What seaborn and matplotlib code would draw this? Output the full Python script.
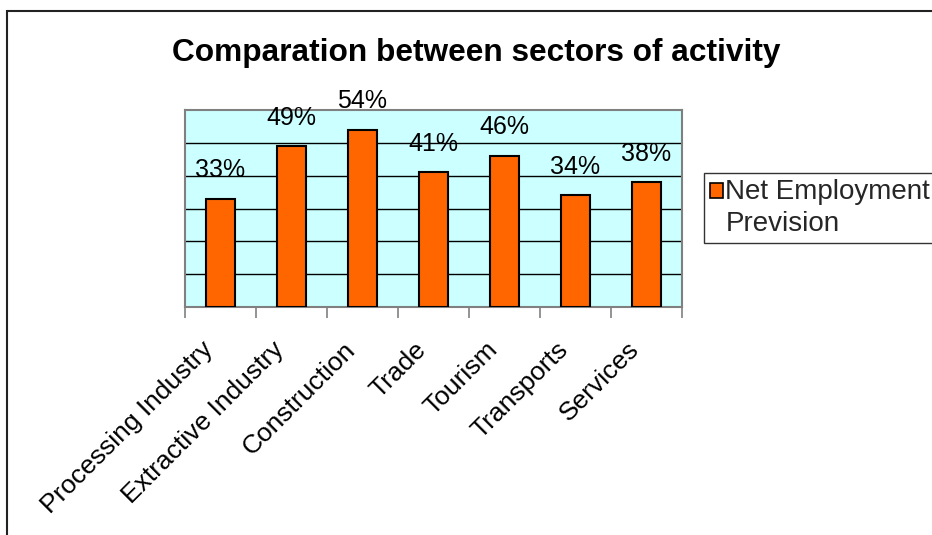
import matplotlib
matplotlib.use("Agg")
import matplotlib.pyplot as plt
import matplotlib.patches as mpatches
import matplotlib.transforms as mtransforms
from matplotlib.legend_handler import HandlerPatch
import seaborn as sns
import pandas as pd
import numpy as np

# Net employment prevision by sector (%)
sectors = ["Processing Industry", "Extractive Industry", "Construction", "Trade",
           "Tourism", "Transports", "Services"]
prevision = [33, 49, 54, 41, 46, 34, 38]
series_name = "Net Employment\nPrevision"
title = "Comparation between sectors of activity"

df = pd.DataFrame({"sector": sectors, "value": prevision})

sns.set_theme(style="white")
plt.rcParams["font.family"] = ["Liberation Sans", "DejaVu Sans"]

W, H = 932, 535
fig = plt.figure(figsize=(W / 100, H / 100), dpi=100)

def fx(px):
    return px / W

def fy(py):
    return 1 - py / H

ax = fig.add_axes([fx(185), fy(307), fx(682) - fx(185), fy(110) - fy(307)])
ax.set_facecolor("#CCFFFF")

sns.barplot(data=df, x="sector", y="value", ax=ax, color="#FF6600",
            width=0.42, edgecolor="black", linewidth=1.5, saturation=1,
            legend=False, zorder=3)

ax.set_xlim(-0.5, len(sectors) - 0.5)
ax.set_ylim(0, 60)
ax.set_yticks(np.arange(10, 60, 10))
ax.yaxis.grid(True, color="black", linewidth=1.0, zorder=1)
ax.tick_params(axis="y", left=False, labelleft=False)
ax.set_xlabel("")
ax.set_ylabel("")

for side in ["left", "top", "right", "bottom"]:
    ax.spines[side].set_visible(True)
    ax.spines[side].set_color("#808080")
    ax.spines[side].set_linewidth(1.5)

# category boundary ticks, labels at category centres
ax.set_xticks(np.arange(-0.5, len(sectors), 1.0), minor=True)
ax.tick_params(axis="x", which="minor", length=8, width=1.2, color="#808080",
               direction="out", bottom=True)
ax.tick_params(axis="x", which="major", length=0, pad=28, labelsize=19,
               labelcolor="black")
ax.set_xticks(range(len(sectors)))
ax.set_xticklabels(sectors, rotation=45, ha="right", va="center",
                   rotation_mode="anchor")
shift = mtransforms.ScaledTranslation(-11 / 100, 0, fig.dpi_scale_trans)
for lab in ax.get_xticklabels():
    lab.set_transform(lab.get_transform() + shift)

for i, v in enumerate(prevision):
    ax.annotate(f"{v}%", xy=(i, v), xytext=(0, 20.5), textcoords="offset points",
                ha="center", va="center", fontsize=18, color="black",
                annotation_clip=False, zorder=5)

fig.text(fx(476), fy(53), title, ha="center", va="center",
         fontsize=22.75, fontweight="bold", color="black")


def first_line_square(legend, orig_handle, xdescent, ydescent, width, height, fontsize):
    # square marker aligned with the first line of a two-line label
    return mpatches.Rectangle((-xdescent, -ydescent + 13), width, height)


handle = mpatches.Patch(facecolor="#FF6600", edgecolor="black", linewidth=1.2,
                        label=series_name)
leg = fig.legend(handles=[handle], loc="upper left",
                 bbox_to_anchor=(fx(704), fy(173)), bbox_transform=fig.transFigure,
                 handler_map={mpatches.Patch: HandlerPatch(patch_func=first_line_square)},
                 fontsize=20, frameon=True, fancybox=False, borderaxespad=0,
                 handlelength=0.45, handleheight=0.45, handletextpad=0.1,
                 borderpad=0.22, labelspacing=0.2)
leg.get_frame().set_edgecolor("black")
leg.get_frame().set_linewidth(1.0)
leg.get_texts()[0].set_linespacing(1.3)

# outer chart border
fig.patches.append(mpatches.Rectangle((fx(7), -0.2), 1.5, fy(11) + 0.2,
                                      transform=fig.transFigure, fill=False,
                                      edgecolor="#222222", linewidth=1.5))

fig.savefig("out.png", dpi=100)
